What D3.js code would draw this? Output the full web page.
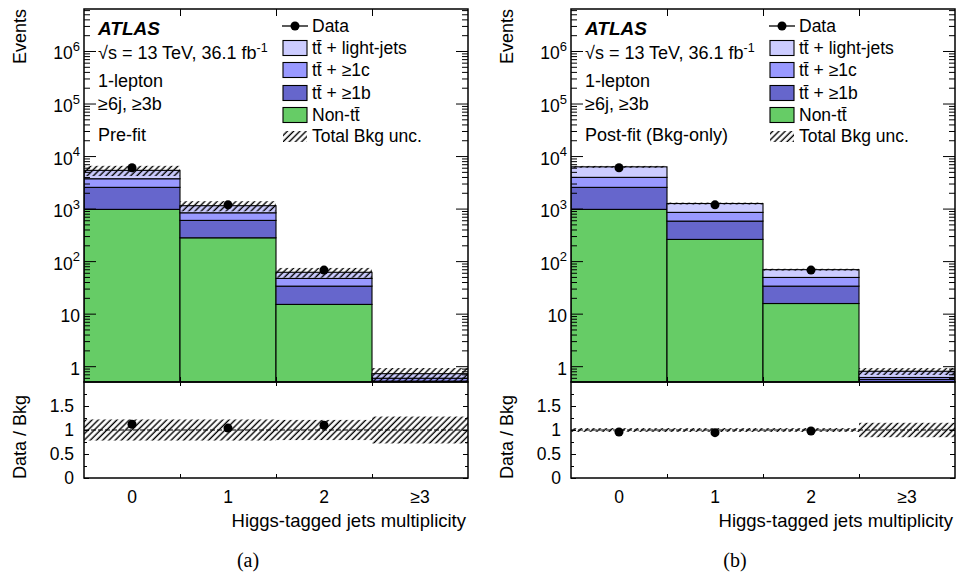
<!DOCTYPE html>
<html><head><meta charset="utf-8">
<script src="https://cdn.jsdelivr.net/npm/d3@7"></script>
<style>
body{margin:0;background:#fff}
svg text{font-family:"Liberation Sans",Arial,Helvetica,sans-serif;fill:#000}
</style>
</head><body>
<svg id="c" width="957" height="577"></svg>
<script>
// ---------- data ----------
const categories = ["0", "1", "2", "≥3"];
const dataCounts = [5980, 1180, 67.4, 0];
// pre-fit components
const preNonTT = [966, 278, 15.0, 0.2];
const preTTb   = [1570, 318, 18.4, 0.32];
const preTTc   = [1164, 236, 13.4, 0.07];
const preLight = [1640, 303, 14.5, 0.13];
const preUnc   = [0.22, 0.22, 0.21, 0.28];
// post-fit (Bkg-only) components
const postNonTT = [966, 259, 15.6, 0.2];
const postTTb   = [1569, 319, 17.8, 0.36];
const postTTc   = [1395, 269, 15.5, 0.05];
const postLight = [2312, 402, 19.9, 0.19];
const postUnc   = [0.04, 0.04, 0.04, 0.15];
// axes
const yTickExps = [0, 1, 2, 3, 4, 5, 6];
const ratioTicks = [0, 0.5, 1, 1.5];
const ratioMinor = [0.25, 0.75, 1.25, 1.75];
const keys = ["nonTT", "ttb", "ttc", "light"];
const colors = {nonTT: "#66cc66", ttb: "#6666cc", ttc: "#9999ff", light: "#ccccff"};
const legendLabels = ["tt\u0304 + light-jets", "tt\u0304 + \u22651c", "tt\u0304 + \u22651b", "Non-tt\u0304"];
const legendKeys = ["light", "ttc", "ttb", "nonTT"];

const svg = d3.select("#c");
const defs = svg.append("defs");
const pat = defs.append("pattern").attr("id", "hatch")
  .attr("patternUnits", "userSpaceOnUse").attr("width", 4.4).attr("height", 4.4)
  .attr("patternTransform", "rotate(45)");
pat.append("line").attr("x1", 1.2).attr("y1", 0).attr("x2", 1.2).attr("y2", 4.4)
  .attr("stroke", "#000").attr("stroke-width", 1.4);

function styleAxis(g) {
  g.select(".domain").remove();
  g.selectAll(".tick line").attr("stroke", "#000").attr("stroke-width", 1);
  g.attr("font-size", 17.5).attr("font-family", null);
  g.selectAll("text").attr("fill", "#000");
}

function panel(ox, comps, unc, fitLabel, caption, id) {
  const L = 84 + ox, R = 468 + ox, T = 9, MB = 382, RB = 478;
  const xb = d3.scaleBand().domain(categories).range([L, R]);
  const xe = d3.scaleLinear().domain([0, categories.length]).range([L, R]);
  const y = d3.scaleLog().domain([0.5, 6.3e6]).range([MB, T]);
  const r = d3.scaleLinear().domain([0, 2]).range([RB, MB]);

  const rows = categories.map((c, i) => ({
    cat: c, nonTT: comps.nonTT[i], ttb: comps.ttb[i], ttc: comps.ttc[i], light: comps.light[i],
    data: dataCounts[i], unc: unc[i]
  }));
  rows.forEach(d => d.total = keys.reduce((s, k) => s + d[k], 0));
  const stacked = d3.stack().keys(keys)(rows);

  defs.append("clipPath").attr("id", "clipM" + id).append("rect")
    .attr("x", L).attr("y", T).attr("width", R - L).attr("height", MB - T);
  defs.append("clipPath").attr("id", "clipR" + id).append("rect")
    .attr("x", L).attr("y", MB).attr("width", R - L).attr("height", RB - MB);

  // ---- main panel ----
  const gm = svg.append("g").attr("clip-path", `url(#clipM${id})`);
  stacked.forEach(layer => {
    gm.append("g").selectAll("rect").data(layer).join("rect")
      .attr("x", d => xb(d.data.cat)).attr("width", xb.bandwidth())
      .attr("y", d => y(d[1]))
      .attr("height", d => y(Math.max(d[0], 0.01)) - y(d[1]))
      .attr("fill", colors[layer.key]).attr("stroke", "#000").attr("stroke-width", 1.1);
  });
  gm.append("g").selectAll("rect").data(rows).join("rect")
    .attr("x", d => xb(d.cat)).attr("width", xb.bandwidth())
    .attr("y", d => y(d.total * (1 + d.unc)))
    .attr("height", d => y(d.total * (1 - d.unc)) - y(d.total * (1 + d.unc)))
    .attr("fill", "url(#hatch)");
  gm.append("g").selectAll("circle").data(rows.filter(d => d.data > 0)).join("circle")
    .attr("cx", d => xb(d.cat) + xb.bandwidth() / 2).attr("cy", d => y(d.data))
    .attr("r", 4.5).attr("fill", "#000");

  // ---- ratio panel ----
  const gr = svg.append("g").attr("clip-path", `url(#clipR${id})`);
  gr.append("g").selectAll("rect").data(rows).join("rect")
    .attr("x", d => xb(d.cat)).attr("width", xb.bandwidth())
    .attr("y", d => r(1 + d.unc)).attr("height", d => r(1 - d.unc) - r(1 + d.unc))
    .attr("fill", "url(#hatch)");
  gr.append("line").attr("x1", L).attr("x2", R).attr("y1", r(1)).attr("y2", r(1))
    .attr("stroke", "#000").attr("stroke-width", 1).attr("stroke-dasharray", "5,2");
  gr.append("g").selectAll("circle").data(rows.filter(d => d.data > 0)).join("circle")
    .attr("cx", d => xb(d.cat) + xb.bandwidth() / 2).attr("cy", d => r(d.data / d.total))
    .attr("r", 4.5).attr("fill", "#000");

  // ---- axes: main ----
  const majors = yTickExps.map(e => Math.pow(10, e));
  const minors = [];
  for (let e = -1; e <= 6; e++) for (let m = 2; m <= 9; m++) {
    const v = m * Math.pow(10, e);
    if (v > 0.5 && v < 6.3e6) minors.push(v);
  }
  svg.append("g").attr("transform", `translate(${L},0)`)
    .call(d3.axisLeft(y).tickValues(majors).tickSize(-12).tickFormat(() => "")).call(styleAxis);
  svg.append("g").attr("transform", `translate(${L},0)`)
    .call(d3.axisLeft(y).tickValues(minors).tickSize(-6).tickFormat(() => "")).call(styleAxis);
  svg.append("g").attr("transform", `translate(${R},0)`)
    .call(d3.axisRight(y).tickValues(majors).tickSize(-12).tickFormat(() => "")).call(styleAxis);
  svg.append("g").attr("transform", `translate(${R},0)`)
    .call(d3.axisRight(y).tickValues(minors).tickSize(-6).tickFormat(() => "")).call(styleAxis);
  const edges = d3.range(1, categories.length);
  svg.append("g").attr("transform", `translate(0,${MB})`)
    .call(d3.axisBottom(xe).tickValues(edges).tickSize(-5).tickFormat(() => "")).call(styleAxis);
  svg.append("g").attr("transform", `translate(0,${T})`)
    .call(d3.axisTop(xe).tickValues(edges).tickSize(-7).tickFormat(() => "")).call(styleAxis);

  // main y labels
  const lab = svg.append("g").attr("font-size", 17.5).attr("text-anchor", "end");
  yTickExps.forEach(e => {
    const t = lab.append("text").attr("x", L - 4).attr("y", y(Math.pow(10, e)) + 8.5);
    if (e === 0) t.text("1");
    else if (e === 1) t.text("10");
    else {
      t.append("tspan").text("10");
      t.append("tspan").attr("font-size", 13).attr("dy", -8.5).text(e);
    }
  });

  // ---- axes: ratio ----
  svg.append("g").attr("transform", `translate(${L},0)`)
    .call(d3.axisLeft(r).tickValues(ratioTicks).tickSize(-5).tickPadding(10).tickFormat(d3.format("")))
    .call(styleAxis);
  svg.append("g").attr("transform", `translate(${L},0)`)
    .call(d3.axisLeft(r).tickValues(ratioMinor).tickSize(-3).tickFormat(() => "")).call(styleAxis);
  svg.append("g").attr("transform", `translate(${R},0)`)
    .call(d3.axisRight(r).tickValues(ratioTicks).tickSize(-5).tickFormat(() => "")).call(styleAxis);
  svg.append("g").attr("transform", `translate(${R},0)`)
    .call(d3.axisRight(r).tickValues(ratioMinor).tickSize(-3).tickFormat(() => "")).call(styleAxis);
  svg.append("g").attr("transform", `translate(0,${RB})`)
    .call(d3.axisBottom(xe).tickValues(edges).tickSize(-4).tickFormat(() => "")).call(styleAxis);
  svg.append("g").attr("transform", `translate(0,${MB})`)
    .call(d3.axisTop(xe).tickValues(edges).tickSize(-4).tickFormat(() => "")).call(styleAxis);
  svg.append("g").attr("transform", `translate(0,${RB})`)
    .call(d3.axisBottom(xb).tickSize(0).tickPadding(13))
    .call(styleAxis);

  // frames
  svg.append("rect").attr("x", L).attr("y", T).attr("width", R - L).attr("height", MB - T)
    .attr("fill", "none").attr("stroke", "#000").attr("stroke-width", 1.5);
  svg.append("rect").attr("x", L).attr("y", MB).attr("width", R - L).attr("height", RB - MB)
    .attr("fill", "none").attr("stroke", "#000").attr("stroke-width", 1.5);

  // axis titles
  svg.append("text").attr("transform", `translate(${ox + 26},${T}) rotate(-90)`)
    .attr("text-anchor", "end").attr("font-size", 18).text("Events");
  svg.append("text").attr("transform", `translate(${ox + 26},437) rotate(-90)`)
    .attr("text-anchor", "middle").attr("font-size", 18).text("Data / Bkg");
  svg.append("text").attr("x", R - 2).attr("y", 526.5).attr("text-anchor", "end")
    .attr("font-size", 18.5).text("Higgs-tagged jets multiplicity");
  svg.append("text").attr("x", L + 164).attr("y", 567).attr("text-anchor", "middle")
    .attr("font-size", 20).style("font-family", '"Liberation Serif","Times New Roman",serif').text(caption);

  // labels block
  const tx = L + 14;
  svg.append("text").attr("x", tx).attr("y", 35).attr("font-size", 19)
    .attr("font-weight", "bold").attr("font-style", "italic").text("ATLAS");
  const s = svg.append("text").attr("x", tx).attr("y", 58.5).attr("font-size", 18);
  s.append("tspan").text("\u221As = 13 TeV, 36.1 fb");
  s.append("tspan").attr("font-size", 12.5).attr("dy", -7).text("-1");
  svg.append("text").attr("x", tx).attr("y", 86.5).attr("font-size", 18).text("1-lepton");
  svg.append("text").attr("x", tx).attr("y", 110).attr("font-size", 18).text("\u22656j, \u22653b");
  svg.append("text").attr("x", tx).attr("y", 140.5).attr("font-size", 18).text(fitLabel);

  // legend
  const bx = L + 199, bw = 24, lx = L + 228;
  const lg = svg.append("g").attr("font-size", 17.5);
  lg.append("line").attr("x1", bx - 1).attr("x2", bx + bw + 1).attr("y1", 26).attr("y2", 26)
    .attr("stroke", "#000").attr("stroke-width", 1.3);
  lg.append("circle").attr("cx", bx + bw / 2).attr("cy", 26).attr("r", 4.5).attr("fill", "#000");
  lg.append("text").attr("x", lx).attr("y", 32).text("Data");
  const bases = [54, 76, 99, 121];
  legendKeys.forEach((k, i) => {
    lg.append("rect").attr("x", bx).attr("y", bases[i] - 13.5).attr("width", bw).attr("height", 15)
      .attr("fill", colors[k]).attr("stroke", "#000").attr("stroke-width", 1.1);
    lg.append("text").attr("x", lx).attr("y", bases[i]).text(legendLabels[i]);
  });
  lg.append("rect").attr("x", bx).attr("y", 131).attr("width", bw).attr("height", 11)
    .attr("fill", "url(#hatch)");
  lg.append("text").attr("x", lx).attr("y", 142).text("Total Bkg unc.");
}

panel(0, {nonTT: preNonTT, ttb: preTTb, ttc: preTTc, light: preLight}, preUnc, "Pre-fit", "(a)", "a");
panel(487, {nonTT: postNonTT, ttb: postTTb, ttc: postTTc, light: postLight}, postUnc, "Post-fit (Bkg-only)", "(b)", "b");
</script>
</body></html>
